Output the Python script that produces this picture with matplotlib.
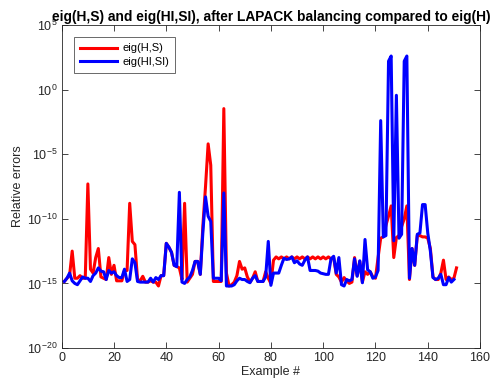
import numpy as np
import matplotlib
matplotlib.use("Agg")
import matplotlib.pyplot as plt
from matplotlib.ticker import LogFormatterMathtext, NullLocator

plt.rcParams['font.family'] = ['Liberation Sans', 'DejaVu Sans']
plt.rcParams['mathtext.fontset'] = 'custom'
plt.rcParams['mathtext.rm'] = 'Liberation Sans'

# exponents (log10 of relative error), example # = 1..N
red_exp = [
    -14.85, -14.6, -14.4, -12.5, -14.6, -14.6, -14.4, -14.6, -14.6, -7.3,
    -13.9, -14.2, -13.0, -12.3, -14.5, -14.6, -14.7, -13.0, -14.3, -13.6,
    -14.8, -14.8, -14.8, -14.0, -14.0, -8.8, -11.75, -12.0, -14.7, -14.8,
    -14.45, -14.9, -14.9, -14.8, -14.9, -14.9, -15.2, -14.4, -14.4, -11.9,
    -12.2, -12.6, -13.6, -13.7, -13.8, -14.7, -8.8, -14.9, -14.6, -14.3,
    -13.3, -13.3, -14.3, -10.5, -7.5, -4.2, -5.85, -14.85, -14.85, -14.85,
    -14.85, -1.47, -14.2, -15.2, -15.1, -14.9, -14.4, -13.3, -13.9, -13.8,
    -14.5, -14.9, -14.6, -14.1, -14.85, -14.85, -14.85, -14.1, -14.6, -15.0,
    -13.2, -12.95, -13.1, -12.95, -13.1, -12.95, -13.1, -12.95, -13.1, -12.95,
    -13.1, -12.95, -13.1, -12.95, -13.1, -12.95, -13.1, -12.95, -13.1, -12.95,
    -13.1, -12.95, -13.1, -13.0, -14.3, -14.5, -14.9, -14.55, -14.8, -15.0,
    -14.9, -13.0, -14.4, -13.3, -14.9, -14.1, -14.3, -14.1, -14.5, -14.6,
    -13.0, -11.5, -11.4, -10.5, -9.8, -9.0, -13.0, -11.45, -11.3, -10.6,
    -10.0, -9.0, -14.7, -12.3, -13.6, -11.3, -11.3, -11.4, -11.4, -11.5,
    -12.3, -14.5, -14.7, -14.7, -14.2, -13.2, -14.7, -14.5, -14.7, -14.6,
    -13.8,
]

blue_exp = [
    -14.85, -14.6, -14.2, -14.8, -15.0, -15.1, -14.8, -14.5, -14.6, -14.6,
    -14.85, -14.4, -14.2, -13.8, -14.05, -14.1, -14.7, -14.0, -14.2, -14.1,
    -14.4, -14.55, -14.55, -13.9, -14.85, -14.7, -13.1, -13.4, -14.85, -14.9,
    -14.9, -14.9, -14.9, -14.6, -14.9, -14.55, -14.7, -14.4, -14.4, -11.9,
    -12.2, -12.6, -13.6, -13.7, -7.95, -14.9, -15.0, -14.7, -14.5, -14.0,
    -13.3, -13.3, -14.3, -11.0, -8.3, -9.8, -10.2, -14.6, -14.6, -14.6,
    -14.8, -8.0, -15.2, -15.2, -15.2, -15.1, -14.8, -14.6, -14.7, -14.7,
    -14.85, -14.95, -14.6, -14.4, -14.85, -14.85, -14.85, -14.5, -11.75, -15.15,
    -14.2, -14.2, -14.2, -13.6, -13.05, -13.15, -13.1, -12.95, -13.4, -13.25,
    -13.5, -13.6, -13.2, -12.95, -14.0, -14.0, -14.0, -14.05, -14.2, -14.25,
    -14.3, -14.3, -13.1, -12.9, -14.2, -13.0, -15.1, -15.2, -14.7, -14.8,
    -14.7, -13.1, -14.45, -13.25, -14.95, -11.6, -13.95, -14.1, -14.6, -14.5,
    -14.0, -2.4, -11.4, -11.3, 2.2, 2.6, -11.7, -0.44, -11.5, -11.2,
    2.2, 2.6, -14.6, -12.3, -13.6, -11.2, -11.1, -8.9, -8.9, -11.1,
    -12.5, -14.55, -14.7, -14.6, -14.3, -15.1, -15.1, -14.55, -14.9, -14.7,
]

x_red = np.arange(1, len(red_exp) + 1)
x_blue = np.arange(1, len(blue_exp) + 1)
err_red = 10.0 ** np.array(red_exp)
err_blue = 10.0 ** np.array(blue_exp)

y_ticks = [1e-20, 1e-15, 1e-10, 1e-5, 1e0, 1e5]
x_ticks = [0, 20, 40, 60, 80, 100, 120, 140, 160]

fig = plt.figure(figsize=(4.91, 3.89), dpi=100)
ax = fig.add_axes([0.1257, 0.1054, 0.852, 0.8303])

ax.semilogy(x_red, err_red, color='#ff0000', lw=2.2, label='eig(H,S)')
ax.semilogy(x_blue, err_blue, color='#0000ff', lw=2.2, label='eig(HI,SI)')

ax.set_xlim(0, 160)
ax.set_ylim(1e-20, 1e5)
ax.set_xticks(x_ticks)
ax.set_yticks(y_ticks)
ax.yaxis.set_major_formatter(LogFormatterMathtext())
ax.yaxis.set_minor_locator(NullLocator())
ax.tick_params(direction='in', length=4, width=0.6, top=True, right=True,
               labelsize=9, colors='#262626', pad=3)
for s in ax.spines.values():
    s.set_color('#262626')
    s.set_linewidth(0.6)

ax.set_xlabel('Example #', fontsize=9, color='#262626', labelpad=1)
ax.set_ylabel('Relative errors', fontsize=9, color='#262626', labelpad=2)
ax.set_title('eig(H,S) and eig(HI,SI), after LAPACK balancing compared to eig(H)',
             fontsize=9.9, fontweight='bold', pad=3)

leg = ax.legend(loc='upper left', bbox_to_anchor=(0.029, 0.962), borderaxespad=0,
                fontsize=8, frameon=True, fancybox=False, handlelength=3.3,
                borderpad=0.55, labelspacing=0.35, handletextpad=0.5)
leg.get_frame().set_edgecolor('#262626')
leg.get_frame().set_linewidth(0.6)

fig.savefig('out.png', dpi=100)
